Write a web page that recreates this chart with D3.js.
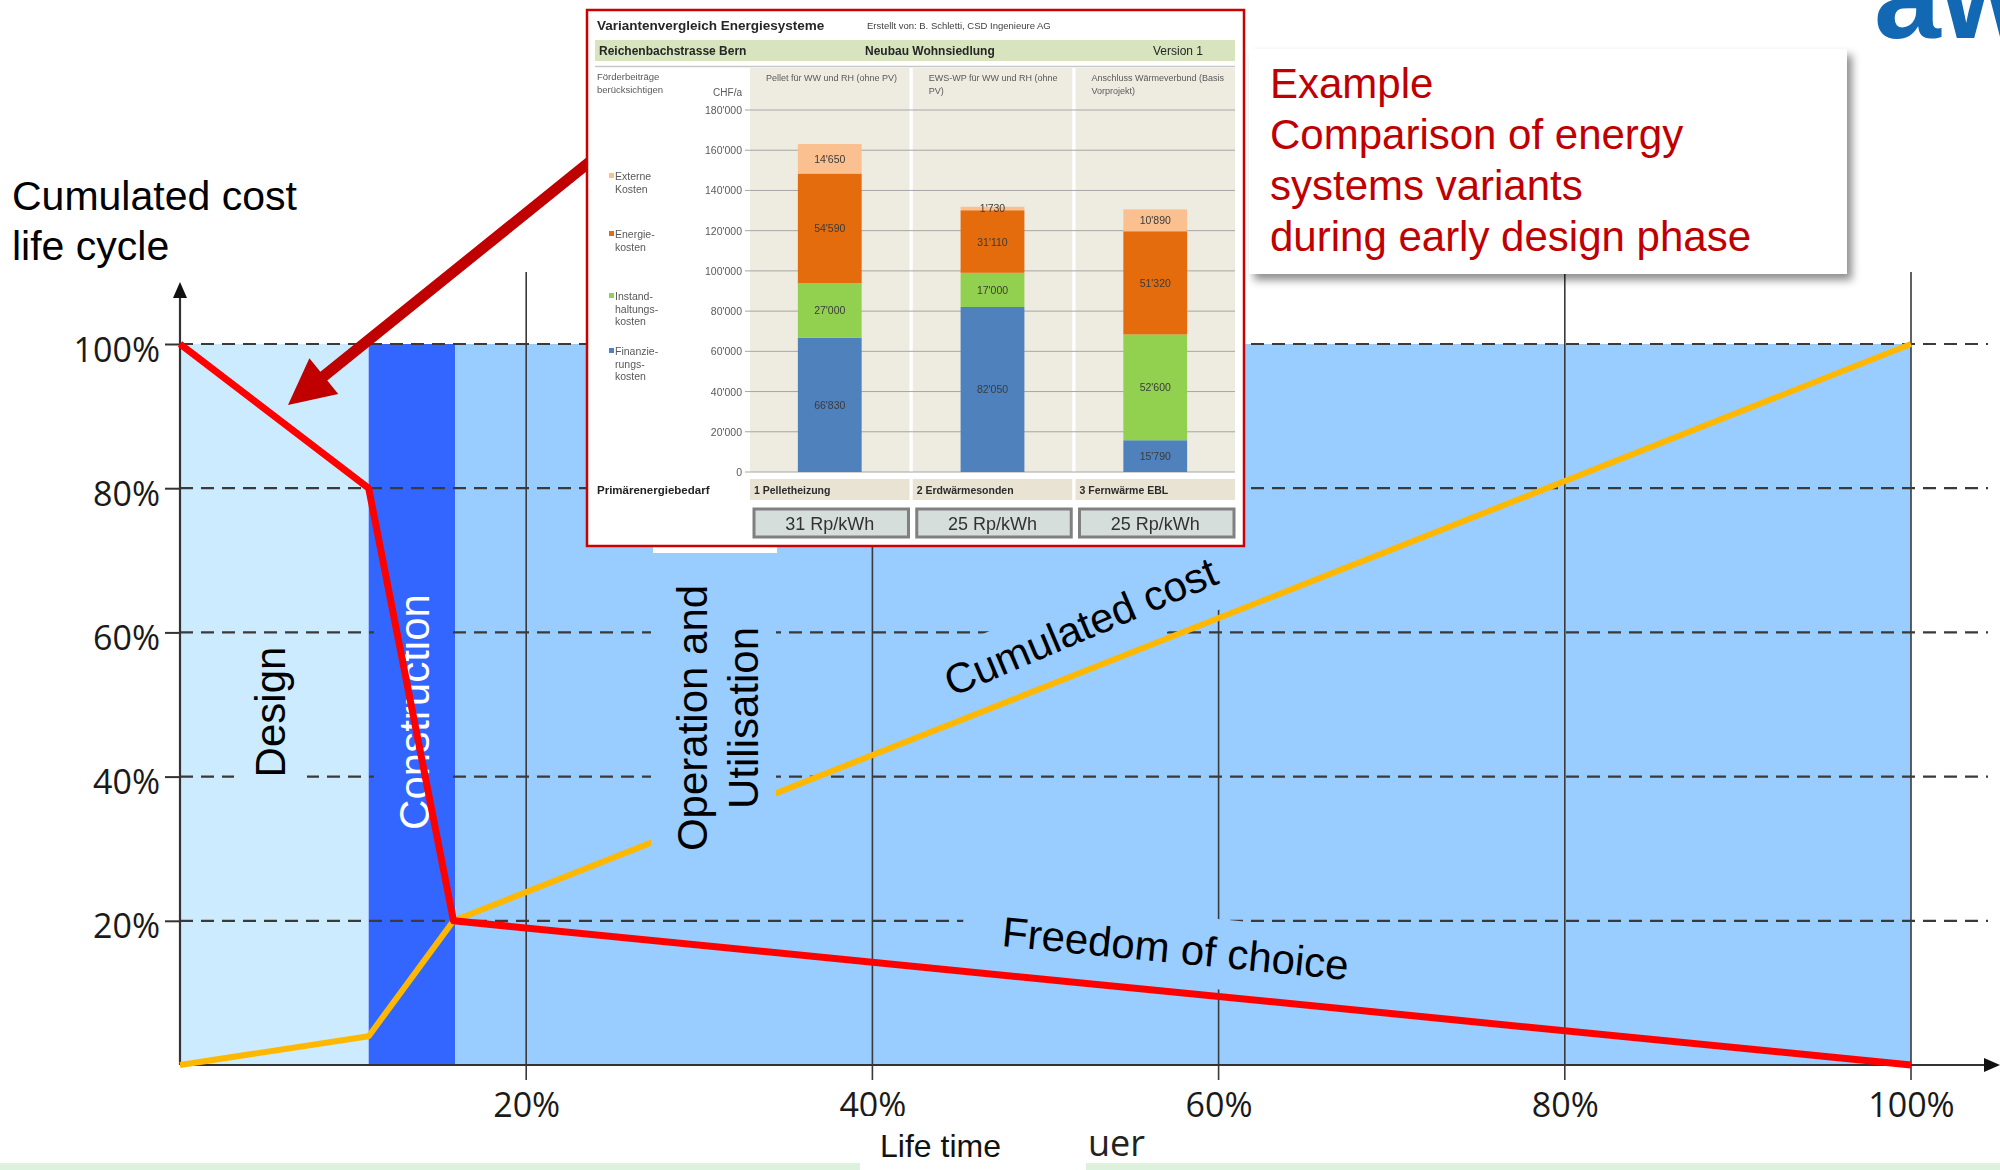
<!DOCTYPE html>
<html>
<head>
<meta charset="utf-8">
<script src="https://cdn.jsdelivr.net/npm/d3@7"></script>
<style>
  body { margin: 0; background: #fff; }
  svg { display: block; }
</style>
</head>
<body>
<svg id="chart" width="2000" height="1170"></svg>
<script>
// ---------- main diagram data (percent of life time / percent of total) ----------
const xTicks = [20, 40, 60, 80, 100];
const yTicks = [20, 40, 60, 80, 100];
const phaseNames = ["Design", "Construction", "Operation and Utilisation"];
const phaseStart = [0, 10.9, 15.9];
const phaseEnd = [10.9, 15.9, 100];
const lifeTime = [0, 10.9, 15.8, 100];
const freedomOfChoice = [100, 80, 20, 0];
const cumulatedCost = [0, 4, 20, 100];

// ---------- energy system comparison (CHF per year) ----------
const variants = ["1 Pelletheizung", "2 Erdwärmesonden", "3 Fernwärme EBL"];
const variantNotes = [
  ["Pellet für WW und RH (ohne PV)"],
  ["EWS-WP für WW und RH (ohne", "PV)"],
  ["Anschluss Wärmeverbund (Basis", "Vorprojekt)"]
];
const finanzierungskosten = [66830, 82050, 15790];
const instandhaltungskosten = [27000, 17000, 52600];
const energiekosten = [54590, 31110, 51320];
const externeKosten = [14650, 1730, 10890];
const primaerenergie = ["31 Rp/kWh", "25 Rp/kWh", "25 Rp/kWh"];
const insetTicks = [0, 20000, 40000, 60000, 80000, 100000, 120000, 140000, 160000, 180000];
const costKeys = ["fin", "inst", "en", "ext"];
const costLabels = {
  ext: ["Externe", "Kosten"],
  en: ["Energie-", "kosten"],
  inst: ["Instand-", "haltungs-", "kosten"],
  fin: ["Finanzie-", "rungs-", "kosten"]
};
const costColors = { fin: "#4F81BD", inst: "#92D050", en: "#E46C0A", ext: "#FAC090" };

const SANS = "'Liberation Sans', Arial, sans-serif";
const OPEN = "'Open Sans', 'Liberation Sans', sans-serif";

const svg = d3.select("#chart");
const defs = svg.append("defs");
defs.append("filter").attr("id", "shadow")
  .attr("x", "-5%").attr("y", "-10%").attr("width", "115%").attr("height", "130%")
  .append("feDropShadow").attr("dx", 5).attr("dy", 6).attr("stdDeviation", 4)
  .attr("flood-color", "#000").attr("flood-opacity", 0.45);
defs.append("filter").attr("id", "soft")
  .append("feGaussianBlur").attr("stdDeviation", 0.45);

const X = d3.scaleLinear().domain([0, 100]).range([180, 1911]);
const Y = d3.scaleLinear().domain([0, 100]).range([1065, 344]);

// ---------- phase bands ----------
const bandColors = ["#CCEBFF", "#3366FF", "#99CCFF"];
svg.append("g").selectAll("rect").data(phaseNames).join("rect")
  .attr("x", (d, i) => X(phaseStart[i]))
  .attr("width", (d, i) => X(phaseEnd[i]) - X(phaseStart[i]))
  .attr("y", Y(100)).attr("height", Y(0) - Y(100))
  .attr("fill", (d, i) => bandColors[i]);

// ---------- grid ----------
svg.append("g").selectAll("line").data(xTicks).join("line")
  .attr("x1", d => X(d)).attr("x2", d => X(d))
  .attr("y1", 272).attr("y2", Y(0) + 15)
  .attr("stroke", "#3a3a3a").attr("stroke-width", 1.6);

svg.append("g").selectAll("line").data(yTicks).join("line")
  .attr("x1", X(0)).attr("x2", 1988)
  .attr("y1", d => Y(d)).attr("y2", d => Y(d))
  .attr("stroke", "#3a3a3a").attr("stroke-width", 2.2)
  .attr("stroke-dasharray", "13 8");

// ---------- axes ----------
const yAxis = svg.append("g").attr("transform", `translate(${X(0)},0)`)
  .call(d3.axisLeft(Y).tickValues(yTicks).tickFormat(d => d + "%").tickSize(15).tickPadding(5));
yAxis.select(".domain").remove();
yAxis.selectAll(".tick line").attr("stroke", "#333").attr("stroke-width", 2);
yAxis.selectAll(".tick text").attr("font-family", OPEN).attr("font-size", 34)
  .attr("fill", "#1a1a1a").attr("dy", "0.5em");

const xAxis = svg.append("g").attr("transform", `translate(0,${Y(0)})`)
  .call(d3.axisBottom(X).tickValues(xTicks).tickFormat(d => d + "%").tickSize(0).tickPadding(28));
xAxis.select(".domain").remove();
xAxis.selectAll(".tick text").attr("font-family", OPEN).attr("font-size", 34)
  .attr("fill", "#1a1a1a");

const axisG = svg.append("g").attr("stroke", "#333").attr("fill", "#111");
axisG.append("line").attr("x1", X(0)).attr("x2", X(0)).attr("y1", 295).attr("y2", Y(0)).attr("stroke-width", 2.2);
axisG.append("path").attr("d", `M${X(0)},282 L${X(0) - 7},298 L${X(0) + 7},298 Z`).attr("stroke", "none");
axisG.append("line").attr("x1", X(0)).attr("x2", 1986).attr("y1", Y(0)).attr("y2", Y(0)).attr("stroke-width", 2.2);
axisG.append("path").attr("d", `M2000,${Y(0)} L1984,${Y(0) - 7} L1984,${Y(0) + 7} Z`).attr("stroke", "none");

// ---------- rotated curve labels ----------
function slantLabel(text, x, y, angle, box, fill) {
  const g = svg.append("g").attr("transform", `translate(${x},${y}) rotate(${angle})`);
  g.append("rect").attr("x", box[0]).attr("y", box[1])
    .attr("width", box[2] - box[0]).attr("height", box[3] - box[1]).attr("fill", fill);
  g.append("text").text(text).attr("font-family", SANS).attr("font-size", 42).attr("fill", "#000");
}
slantLabel("Cumulated cost", 952, 697, -23, [-8, -46, 312, 24], "#99CCFF");
slantLabel("Freedom of choice", 1001, 946, 5.6, [-40, -48, 385, 22], "#99CCFF");

// ---------- curves ----------
const line = d3.line().x((d, i) => X(lifeTime[i])).y(d => Y(d));
svg.append("path").datum(cumulatedCost).attr("d", line)
  .attr("fill", "none").attr("stroke", "#FFB800").attr("stroke-width", 6).attr("stroke-linejoin", "round");

// ---------- phase labels ----------
function phaseLabel(lines, x0, y0, lineStep, box, boxFill, color) {
  svg.append("rect").attr("x", box[0]).attr("y", box[1])
    .attr("width", box[2] - box[0]).attr("height", box[3] - box[1]).attr("fill", boxFill);
  lines.forEach((t, k) => {
    svg.append("text").text(t)
      .attr("transform", `translate(${x0 + k * lineStep},${y0}) rotate(-90)`)
      .attr("text-anchor", "middle")
      .attr("font-family", SANS).attr("font-size", 42).attr("fill", color);
  });
}
const midX = i => (X(phaseStart[i]) + X(phaseEnd[i])) / 2;
phaseLabel(["Design"], midX(0) + 11, 712, 0, [234, 640, 307, 786], bandColors[0], "#000");
phaseLabel(["Construction"], midX(1) + 17, 712, 0, [374, 590, 448, 836], bandColors[1], "#fff");
phaseLabel(["Operation and", "Utilisation"], 707, 718, 51, [651, 575, 776, 862], bandColors[2], "#000");

svg.append("path").datum(freedomOfChoice).attr("d", line)
  .attr("fill", "none").attr("stroke", "#FF0000").attr("stroke-width", 7).attr("stroke-linejoin", "round");

// ---------- y axis title ----------
const title = svg.append("text").attr("font-family", SANS).attr("font-size", 41).attr("fill", "#000");
title.append("tspan").attr("x", 12).attr("y", 210).text("Cumulated cost");
title.append("tspan").attr("x", 12).attr("y", 260).text("life cycle");

// ---------- pointer arrow ----------
(function () {
  const S = [592, 160], T = [288, 405];
  const len = Math.hypot(T[0] - S[0], T[1] - S[1]);
  const u = [(T[0] - S[0]) / len, (T[1] - S[1]) / len];
  const n = [-u[1], u[0]];
  const head = 46, hw = 23, sw = 5.5;
  const B = [T[0] - u[0] * head, T[1] - u[1] * head];
  const p = (c, k) => [c[0] + n[0] * k, c[1] + n[1] * k];
  const pts = [p(S, sw), p(B, sw), p(B, hw), T, p(B, -hw), p(B, -sw), p(S, -sw)];
  svg.append("path").attr("d", "M" + pts.map(q => q.join(",")).join("L") + "Z").attr("fill", "#C00000");
})();

// ---------- inset: cost comparison of energy systems ----------
svg.append("rect").attr("x", 653).attr("y", 545).attr("width", 124).attr("height", 8).attr("fill", "#fff");
const inset = svg.append("g");
inset.append("rect").attr("x", 587).attr("y", 10).attr("width", 657).attr("height", 536)
  .attr("fill", "#fff").attr("stroke", "#CC0000").attr("stroke-width", 2.5);
const ig = inset.append("g").attr("filter", "url(#soft)");
const fmt = d3.formatLocale({ decimal: ".", thousands: "'", grouping: [3], currency: ["", ""] }).format(",");

ig.append("text").text("Variantenvergleich Energiesysteme").attr("x", 597).attr("y", 30)
  .attr("font-family", SANS).attr("font-size", 13.5).attr("font-weight", "bold").attr("fill", "#262626");
ig.append("text").text("Erstellt von:   B. Schletti, CSD Ingenieure AG").attr("x", 867).attr("y", 29)
  .attr("font-family", SANS).attr("font-size", 9.5).attr("fill", "#404040");
ig.append("rect").attr("x", 595).attr("y", 40).attr("width", 640).attr("height", 21).attr("fill", "#D7E4BD");
[["Reichenbachstrasse Bern", 599, "bold"], ["Neubau Wohnsiedlung", 865, "bold"], ["Version 1", 1153, "normal"]]
  .forEach(([t, x, w]) => ig.append("text").text(t).attr("x", x).attr("y", 55)
    .attr("font-family", SANS).attr("font-size", 12).attr("font-weight", w).attr("fill", "#262626"));
ig.append("line").attr("x1", 595).attr("x2", 1235).attr("y1", 66.5).attr("y2", 66.5)
  .attr("stroke", "#c8c8c8").attr("stroke-width", 1.5);
["Förderbeiträge", "berücksichtigen"].forEach((t, k) => ig.append("text").text(t)
  .attr("x", 597).attr("y", 80 + k * 13).attr("font-family", SANS).attr("font-size", 9.5).attr("fill", "#595959"));
ig.append("text").text("CHF/a").attr("x", 742).attr("y", 96).attr("text-anchor", "end")
  .attr("font-family", SANS).attr("font-size", 10).attr("fill", "#595959");

const bx = d3.scaleBand().domain(variants).range([750, 1235]).paddingInner(0.02);
const by = d3.scaleLinear().domain([0, 180000]).range([472, 110]);

ig.append("g").selectAll("rect").data(variants).join("rect")
  .attr("x", d => bx(d)).attr("width", bx.bandwidth())
  .attr("y", 68).attr("height", by(0) - 68).attr("fill", "#EEECE1");
variants.forEach((v, i) => variantNotes[i].forEach((t, k) => ig.append("text").text(t)
  .attr("x", bx(v) + 16).attr("y", 81 + k * 13)
  .attr("font-family", SANS).attr("font-size", 9).attr("fill", "#595959")));

ig.append("g").selectAll("line").data(insetTicks).join("line")
  .attr("x1", 745).attr("x2", 1235).attr("y1", d => by(d)).attr("y2", d => by(d))
  .attr("stroke", "#a6a6a6").attr("stroke-width", 1);
ig.append("g").selectAll("text").data(insetTicks).join("text")
  .text(d => fmt(d)).attr("x", 742).attr("y", d => by(d) + 4).attr("text-anchor", "end")
  .attr("font-family", SANS).attr("font-size", 10.5).attr("fill", "#595959");

const table = variants.map((v, i) => ({
  variant: v, fin: finanzierungskosten[i], inst: instandhaltungskosten[i],
  en: energiekosten[i], ext: externeKosten[i]
}));
const stacked = d3.stack().keys(costKeys)(table);
const barW = bx.bandwidth() * 0.4;
const layers = ig.append("g").selectAll("g").data(stacked).join("g").attr("fill", s => costColors[s.key]);
layers.selectAll("rect").data(s => s).join("rect")
  .attr("x", d => bx(d.data.variant) + (bx.bandwidth() - barW) / 2).attr("width", barW)
  .attr("y", d => by(d[1])).attr("height", d => by(d[0]) - by(d[1]));
layers.selectAll("text").data(s => s.map(d => ({ d, key: s.key }))).join("text")
  .text(o => fmt(o.d.data[o.key]))
  .attr("x", o => bx(o.d.data.variant) + bx.bandwidth() / 2)
  .attr("y", o => (by(o.d[0]) + by(o.d[1])) / 2 + 4)
  .attr("text-anchor", "middle").attr("font-family", SANS).attr("font-size", 10.5).attr("fill", "#3b3b3b");

// legend
const legendY = { ext: 180, en: 238, inst: 300, fin: 355 };
costKeys.forEach(k => {
  ig.append("rect").attr("x", 609).attr("y", legendY[k] - 7).attr("width", 5).attr("height", 5).attr("fill", costColors[k]);
  costLabels[k].forEach((t, j) => ig.append("text").text(t).attr("x", 615).attr("y", legendY[k] + j * 12.5)
    .attr("font-family", SANS).attr("font-size", 10.5).attr("fill", "#595959"));
});

// category row and primary energy
ig.append("g").selectAll("rect").data(variants).join("rect")
  .attr("x", d => bx(d)).attr("width", bx.bandwidth()).attr("y", 479).attr("height", 21).attr("fill", "#E8E3D3");
ig.append("g").selectAll("text").data(variants).join("text").text(d => d)
  .attr("x", d => bx(d) + 4).attr("y", 494)
  .attr("font-family", SANS).attr("font-size", 10.5).attr("font-weight", "bold").attr("fill", "#2b2b2b");
ig.append("text").text("Primärenergiebedarf").attr("x", 597).attr("y", 494)
  .attr("font-family", SANS).attr("font-size", 11.5).attr("font-weight", "bold").attr("fill", "#222");
ig.append("g").selectAll("rect").data(variants).join("rect")
  .attr("x", d => bx(d) + 4).attr("width", bx.bandwidth() - 5).attr("y", 509).attr("height", 28)
  .attr("fill", "#D5DEDA").attr("stroke", "#808080").attr("stroke-width", 3);
ig.append("g").selectAll("text").data(variants).join("text").text((d, i) => primaerenergie[i])
  .attr("x", d => bx(d) + bx.bandwidth() / 2).attr("y", 530).attr("text-anchor", "middle")
  .attr("font-family", SANS).attr("font-size", 18).attr("fill", "#333");

// ---------- example note ----------
svg.append("rect").attr("x", 1249).attr("y", 49).attr("width", 598).attr("height", 225)
  .attr("fill", "#fff").attr("filter", "url(#shadow)");
const note = svg.append("text").attr("font-family", SANS).attr("font-size", 42).attr("fill", "#C00000");
["Example", "Comparison of energy", "systems variants", "during early design phase"]
  .forEach((t, k) => note.append("tspan").attr("x", 1270).attr("y", 98 + k * 51).text(t));

// ---------- logo fragment ----------
svg.append("text").text("aw").attr("x", 1874).attr("y", 38)
  .attr("font-family", SANS).attr("font-size", 120).attr("font-weight", "bold").attr("fill", "#1268B3");

// ---------- footer ----------
svg.append("rect").attr("x", 0).attr("y", 1163).attr("width", 2000).attr("height", 7).attr("fill", "#DDF2DD");
svg.append("rect").attr("x", 860).attr("y", 1116).attr("width", 226).attr("height", 54).attr("fill", "#fff");
svg.append("text").text("Life time").attr("x", 880).attr("y", 1157)
  .attr("font-family", SANS).attr("font-size", 32).attr("fill", "#111");
svg.append("text").text("uer").attr("x", 1088).attr("y", 1156)
  .attr("font-family", OPEN).attr("font-size", 36).attr("fill", "#222");
</script>
</body>
</html>
